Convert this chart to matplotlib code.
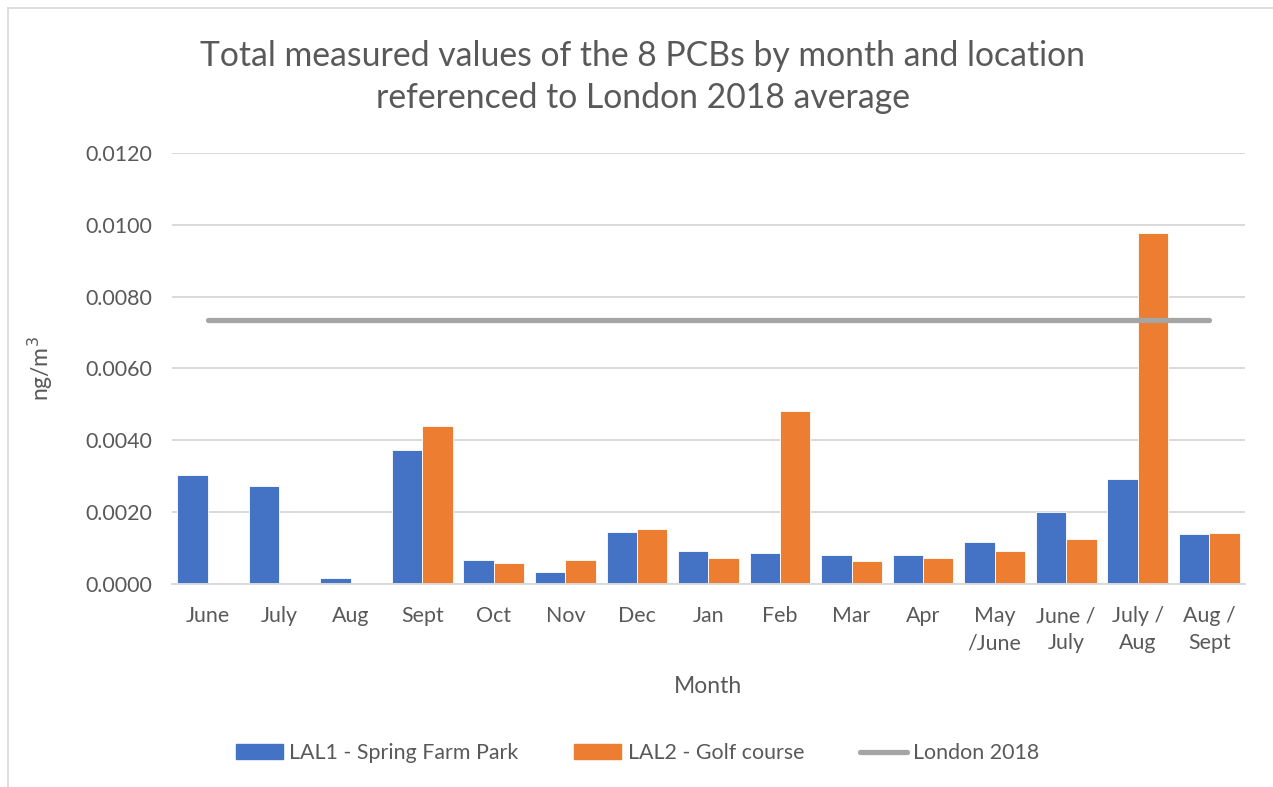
import numpy as np
import matplotlib
matplotlib.use('Agg')
from matplotlib import pyplot as plt
from matplotlib.lines import Line2D

plt.rcParams['font.family'] = ['Lato', 'DejaVu Sans']

months = ['June', 'July', 'Aug', 'Sept', 'Oct', 'Nov', 'Dec', 'Jan', 'Feb',
          'Mar', 'Apr', 'May\n/June', 'June /\nJuly', 'July /\nAug', 'Aug /\nSept']
lal1 = [0.00303, 0.00274, 0.00016, 0.00374, 0.00066, 0.00033, 0.00145, 0.00091,
        0.00085, 0.00081, 0.00081, 0.00116, 0.00199, 0.00292, 0.00138]
lal2 = [0.0, 0.0, 0.0, 0.00441, 0.00059, 0.00067, 0.00152, 0.00071,
        0.00481, 0.00063, 0.00071, 0.00091, 0.00125, 0.00978, 0.00141]
london = [0.00734] * len(months)

blue = '#4472C4'
orange = '#ED7D31'
grey = '#A5A5A5'
txt = '#595959'

fig = plt.figure(figsize=(12.73, 7.87), dpi=100)
ax = fig.add_axes([0.1351, 0.2580, 0.8429, 0.5476])

x = np.arange(len(months))
w = 0.425
ax.bar(x - w/2, lal1, w, color=blue, edgecolor='white', linewidth=0.6, zorder=3,
       label='LAL1 - Spring Farm Park')
ax.bar(x + w/2, lal2, w, color=orange, edgecolor='white', linewidth=0.6, zorder=3,
       label='LAL2 - Golf course')
ax.plot(x, london, color=grey, linewidth=3.8, solid_capstyle='round', zorder=4,
        label='London 2018')

ax.set_xlim(-0.5, len(months) - 0.5)
ax.set_ylim(0, 0.012)
ax.set_yticks(np.arange(0, 0.0121, 0.002))
ax.set_yticklabels(['%.4f' % v for v in np.arange(0, 0.0121, 0.002)])
ax.set_xticks(x)
ax.set_xticklabels(months, linespacing=1.45)
ax.tick_params(axis='both', length=0, labelsize=15.4, colors=txt)
ax.tick_params(axis='x', pad=16)
ax.tick_params(axis='y', pad=14)
ax.yaxis.grid(True, color='#D9D9D9', linewidth=1.4, zorder=0)
for s in ['top', 'right', 'left']:
    ax.spines[s].set_visible(False)
ax.spines['bottom'].set_color('#D9D9D9')
ax.spines['bottom'].set_linewidth(1.4)
ax.spines['bottom'].set_zorder(5)

ax.set_xlabel('Month', fontsize=16.5, color=txt, labelpad=16)
ax.set_ylabel('ng/m$^3$', fontsize=16.5, color=txt, labelpad=22)

fig.text(0.505, 0.929, 'Total measured values of the 8 PCBs by month and location',
         ha='center', va='center', fontsize=24.3, color=txt)
fig.text(0.505, 0.875, 'referenced to London 2018 average',
         ha='center', va='center', fontsize=24.3, color=txt)

handles = [plt.Rectangle((0, 0), 1, 1, color=blue),
           plt.Rectangle((0, 0), 1, 1, color=orange),
           Line2D([0], [0], color=grey, linewidth=3.8, solid_capstyle='round')]
fig.legend(handles, ['LAL1 - Spring Farm Park', 'LAL2 - Golf course', 'London 2018'],
           loc='center', bbox_to_anchor=(0.501, 0.043), ncol=3, frameon=False,
           fontsize=15.4, handlelength=2.2, handleheight=0.7, handletextpad=0.3,
           columnspacing=2.6, labelcolor=txt)

# chart border (top and left only visible in the reference crop)
fig.add_artist(Line2D([8/1273, 1], [1 - 8/787, 1 - 8/787], color='#D9D9D9', linewidth=1.2))
fig.add_artist(Line2D([8/1273, 8/1273], [0, 1 - 8/787], color='#D9D9D9', linewidth=1.2))

fig.savefig('out.png', dpi=100, facecolor='white')
